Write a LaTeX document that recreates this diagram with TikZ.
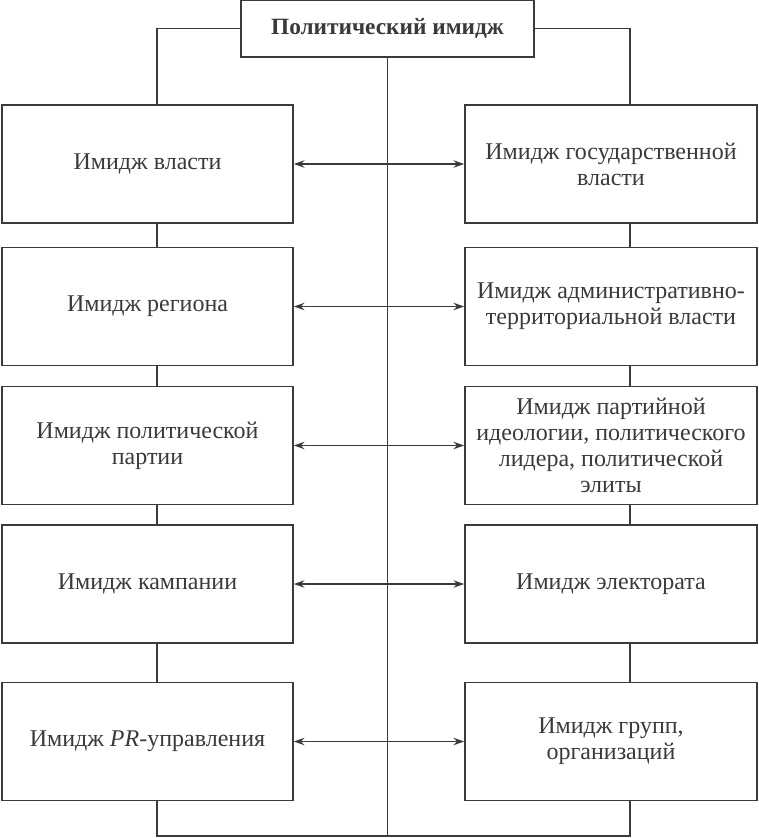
\documentclass[tikz,border=0pt]{standalone}
\usepackage{fontspec}
\setmainfont{Liberation Serif}
\usetikzlibrary{arrows.meta}
\definecolor{ink}{HTML}{3A3A3A}

\begin{document}
\begin{tikzpicture}[x=0.75pt,y=-0.75pt,>={Stealth[length=8pt,width=5.5pt]},
  box/.style={draw=ink,line width=1.2pt,fill=white,align=center,text=ink,
    font=\fontsize{18}{19.5}\selectfont,inner sep=2pt,minimum height=88.5pt},
  lbox/.style={box,minimum width=218.25pt},
  rbox/.style={box,minimum width=219pt},
  link/.style={draw=ink,line width=1.2pt}]
\useasboundingbox (0,0) rectangle (758,838);
\node[box,minimum width=220pt,minimum height=42.75pt,font=\fontsize{17.5}{19.5}\selectfont\bfseries] (top) at (387.5,28.5) {Политический имидж};
% left column
\node[lbox] (l1) at (147.5,164) {Имидж власти};
\node[lbox] (l2) at (147.5,306.5) {Имидж региона};
\node[lbox] (l3) at (147.5,445.5) {Имидж политической\\партии};
\node[lbox] (l4) at (147.5,584) {Имидж кампании};
\node[lbox] (l5) at (147.5,741.5) {Имидж \textit{PR}-управления};
% right column
\node[rbox] (r1) at (611,164) {Имидж государственной\\власти};
\node[rbox] (r2) at (611,306.5) {Имидж административно-\\территориальной власти};
\node[rbox] (r3) at (611,445.5) {Имидж партийной\\идеологии, политического\\лидера, политической\\элиты};
\node[rbox] (r4) at (611,584) {Имидж электората};
\node[rbox] (r5) at (611,741.5) {Имидж групп,\\организаций};
\coordinate (lb) at (157,836);
\coordinate (rb) at (630,836);
\draw[link] (top.west) -| (l1.north -| lb);
\draw[link] (top.east) -| (r1.north -| rb);
\draw[link] (top.south) -- (top.south |- lb);
\foreach \a/\b in {1/2,2/3,3/4,4/5} {
  \draw[link] (l\a.south -| lb) -- (l\b.north -| lb);
  \draw[link] (r\a.south -| rb) -- (r\b.north -| rb);
}
\draw[link] (l5.south -| lb) -- (lb) -- (rb) -- (r5.south -| rb);
\foreach \i in {1,...,5}
  \draw[link,<->] (l\i) -- (r\i);
\end{tikzpicture}
\end{document}
